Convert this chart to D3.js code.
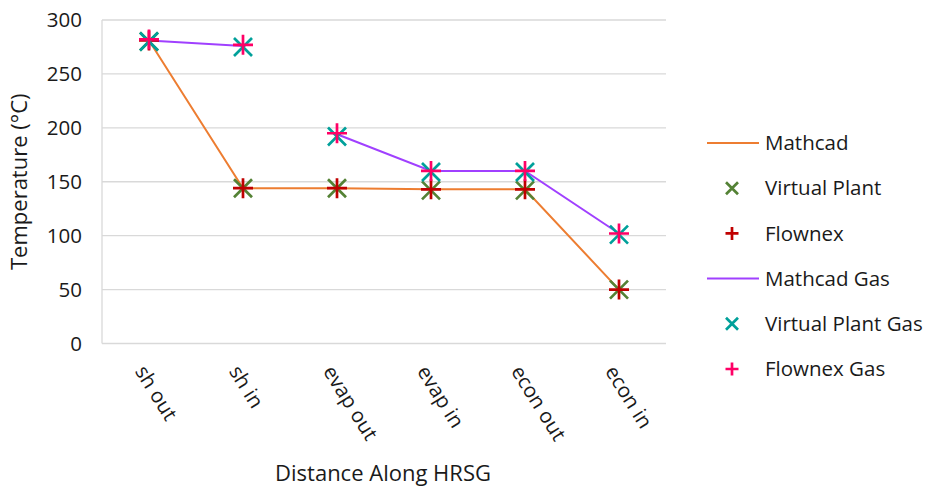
<!DOCTYPE html>
<html><head><meta charset="utf-8">
<script src="https://cdn.jsdelivr.net/npm/d3@7"></script>
<style>body{margin:0;background:#fff}svg{display:block}text{font-family:"Open Sans",sans-serif;fill:#1a1a1a}</style>
</head><body><svg id="c" width="927" height="486"></svg>
<script>
const categories = ["sh out","sh in","evap out","evap in","econ out","econ in"];
const mathcad = [281, 144, 144, 143, 143, 50];
const virtualPlant = [280, 144, 144, 142, 142, 50];
const flownex = [281, 144, 144, 143, 143, 50];
const mathcadGas = [281, 276, 194, 160, 160, 102];
const mathcadGasSegments = [[0,1],[2,5]];
const virtualPlantGas = [280, 275, 192, 159, 159, 101];
const flownexGas = [282, 277, 195, 160, 160, 102];
const yTicks = [0,50,100,150,200,250,300];

(function(){
const svg = d3.select("#c");
const pLeft=102,pRight=666,pTop=20,pBottom=343.5;
const FS = "20.5px";
const x = d3.scalePoint().domain(categories).range([pLeft,pRight]).padding(0.5);
const y = d3.scaleLinear().domain([0,300]).range([pBottom,pTop]);

// gridlines
svg.append("g").selectAll("line").data(yTicks).join("line")
  .attr("x1",pLeft).attr("x2",pRight).attr("y1",d=>y(d)).attr("y2",d=>y(d))
  .attr("stroke","#d9d9d9").attr("stroke-width",1.3);
svg.append("line").attr("x1",pLeft).attr("x2",pLeft).attr("y1",pTop).attr("y2",pBottom)
  .attr("stroke","#d9d9d9").attr("stroke-width",1.3);

// y axis labels
const yAxis = svg.append("g").attr("transform",`translate(${pLeft},0)`)
  .call(d3.axisLeft(y).tickValues(yTicks).tickSize(0).tickPadding(20));
yAxis.select(".domain").remove();
yAxis.selectAll("text").style("font-family",'"Open Sans",sans-serif').style("font-size",FS).attr("fill","#1a1a1a");

// x axis labels
const xAxis = svg.append("g").attr("transform",`translate(0,${pBottom})`)
  .call(d3.axisBottom(x).tickSize(0));
xAxis.select(".domain").remove();
xAxis.selectAll("text").style("font-family",'"Open Sans",sans-serif').style("font-size",FS).attr("fill","#1a1a1a")
  .attr("text-anchor","start").attr("x",0).attr("y",0).attr("dy","0.35em")
  .attr("transform","translate(-9,24) rotate(58)");

// axis titles
svg.append("text").attr("transform",`translate(27,${(pTop+pBottom)/2}) rotate(-90)`)
  .attr("text-anchor","middle").style("font-size","22px").text("Temperature (°C)");
svg.append("text").attr("x",(pLeft+pRight)/2 - 1).attr("y",481)
  .attr("text-anchor","middle").style("font-size","22px").text("Distance Along HRSG");

const C = {mathcad:"#ED7D31", vp:"#548235", fl:"#C00000", gas:"#A040FF", vpg:"#00A09A", flg:"#FF0066"};

const lineGen = d3.line().x(d=>x(categories[d.i])).y(d=>y(d.v));
svg.append("path").datum(mathcad.map((v,i)=>({v,i})))
  .attr("d",lineGen).attr("fill","none")
  .attr("stroke",C.mathcad).attr("stroke-width",2);
mathcadGasSegments.forEach(([a,b])=>{
  const pts = mathcadGas.map((v,i)=>({v,i})).slice(a,b+1);
  svg.append("path").datum(pts).attr("d",lineGen)
    .attr("fill","none").attr("stroke",C.gas).attr("stroke-width",2);
});

function xMark(g,cx,cy,r,col,w){
  g.append("path").attr("d",`M${cx-r},${cy-r}L${cx+r},${cy+r}M${cx-r},${cy+r}L${cx+r},${cy-r}`)
   .attr("stroke",col).attr("stroke-width",w).attr("fill","none");
}
function plusMark(g,cx,cy,r,col,w){
  g.append("path").attr("d",`M${cx-r},${cy}L${cx+r},${cy}M${cx},${cy-r}L${cx},${cy+r}`)
   .attr("stroke",col).attr("stroke-width",w).attr("fill","none");
}
const mk = svg.append("g");
virtualPlant.forEach((v,i)=>xMark(mk,x(categories[i]),y(v),9,C.vp,2.7));
flownex.forEach((v,i)=>plusMark(mk,x(categories[i]),y(v),10,C.fl,2.7));
virtualPlantGas.forEach((v,i)=>xMark(mk,x(categories[i]),y(v),9,C.vpg,2.7));
flownexGas.forEach((v,i)=>plusMark(mk,x(categories[i]),y(v),10,C.flg,2.7));

// legend
const legend = [
  {name:"Mathcad",type:"line",col:C.mathcad},
  {name:"Virtual Plant",type:"x",col:C.vp},
  {name:"Flownex",type:"plus",col:C.fl},
  {name:"Mathcad Gas",type:"line",col:C.gas},
  {name:"Virtual Plant Gas",type:"x",col:C.vpg},
  {name:"Flownex Gas",type:"plus",col:C.flg}
];
const lg = svg.append("g");
legend.forEach((d,i)=>{
  const cy = 143 + i*45.2;
  if(d.type==="line") lg.append("line").attr("x1",707).attr("x2",759).attr("y1",cy).attr("y2",cy).attr("stroke",d.col).attr("stroke-width",2);
  else if(d.type==="x") xMark(lg,732,cy,6,d.col,2.7);
  else plusMark(lg,732,cy,6.5,d.col,2.7);
  lg.append("text").attr("x",765).attr("y",cy).attr("dy","0.35em").style("font-size",FS).text(d.name);
});
})();
</script></body></html>
